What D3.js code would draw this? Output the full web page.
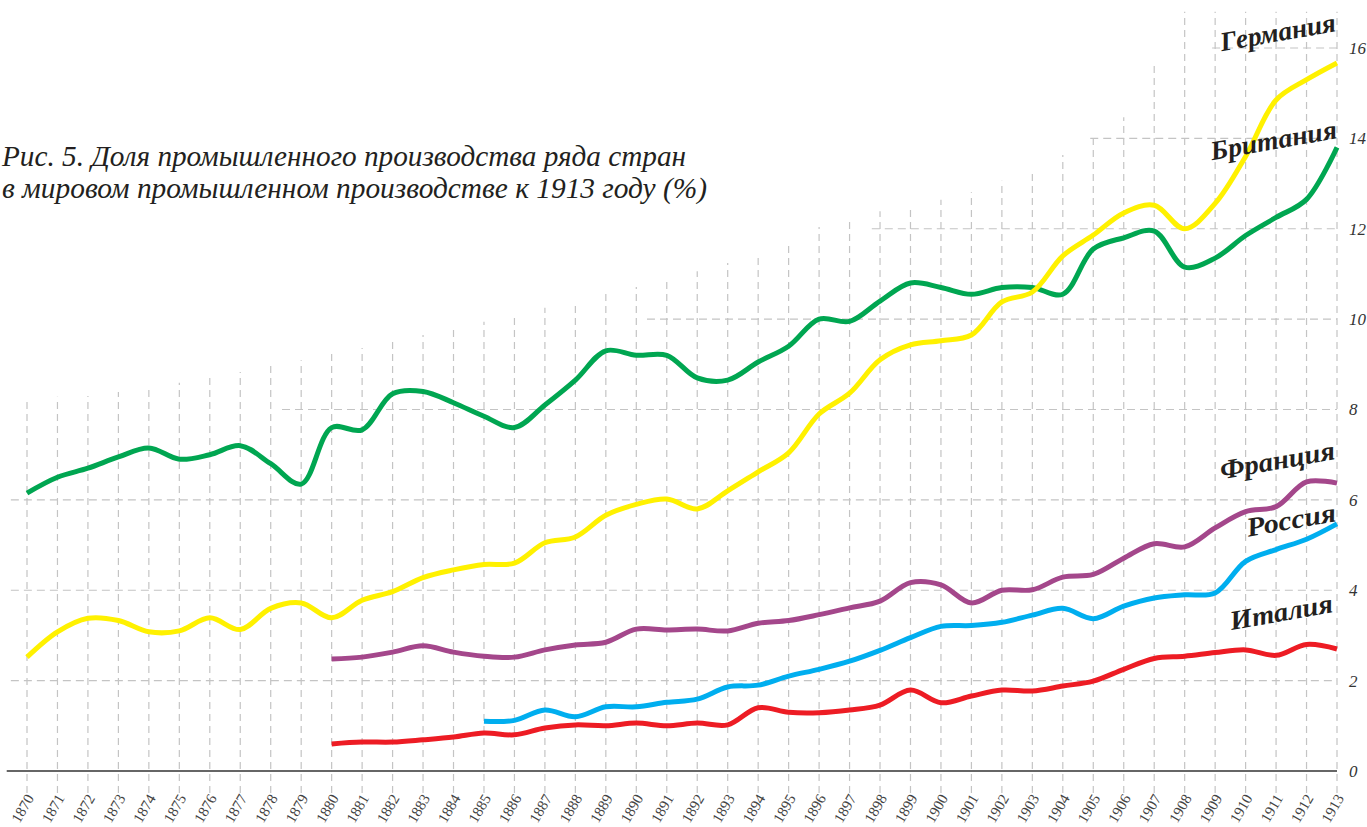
<!DOCTYPE html>
<html>
<head>
<meta charset="utf-8">
<script src="https://cdn.jsdelivr.net/npm/d3@7"></script>
<style>
    body { margin: 0; background: #fff; overflow: hidden; }
    svg { display: block; }
</style>
</head>
<body>
<div id="chart"></div>
<script>
// Годы
const years = [1870, 1871, 1872, 1873, 1874, 1875, 1876, 1877, 1878, 1879,
    1880, 1881, 1882, 1883, 1884, 1885, 1886, 1887, 1888, 1889,
    1890, 1891, 1892, 1893, 1894, 1895, 1896, 1897, 1898, 1899,
    1900, 1901, 1902, 1903, 1904, 1905, 1906, 1907, 1908, 1909,
    1910, 1911, 1912, 1913];

// Доли (%), Британия и Германия с 1870
const britain = [6.15, 6.5, 6.7, 6.95, 7.15, 6.9, 7.0, 7.2, 6.8, 6.35,
    7.6, 7.55, 8.35, 8.4, 8.15, 7.85, 7.6, 8.1, 8.65, 9.3,
    9.2, 9.2, 8.7, 8.65, 9.05, 9.4, 10.0, 9.95, 10.4, 10.8,
    10.7, 10.55, 10.7, 10.7, 10.55, 11.55, 11.8, 11.95, 11.15, 11.35,
    11.85, 12.25, 12.65, 13.8];
const germany = [2.52, 3.08, 3.38, 3.33, 3.08, 3.1, 3.39, 3.13, 3.6, 3.72,
    3.39, 3.78, 3.97, 4.28, 4.45, 4.57, 4.6, 5.05, 5.18, 5.66,
    5.9, 6.02, 5.8, 6.2, 6.62, 7.04, 7.9, 8.36, 9.1, 9.43,
    9.52, 9.65, 10.38, 10.6, 11.4, 11.86, 12.35, 12.52, 12.0, 12.56,
    13.6, 14.85, 15.3, 15.67];
// Франция и Италия с 1880
const france = [2.48, 2.52, 2.63, 2.77, 2.63, 2.54, 2.52, 2.68, 2.79, 2.85,
    3.14, 3.12, 3.14, 3.1, 3.27, 3.33, 3.46, 3.61, 3.76, 4.17,
    4.12, 3.72, 4.0, 4.01, 4.29, 4.35, 4.71, 5.03, 4.96, 5.38,
    5.74, 5.85, 6.4, 6.37];
const italy = [0.6, 0.64, 0.64, 0.69, 0.75, 0.84, 0.8, 0.95, 1.02, 1.0,
    1.06, 1.0, 1.06, 1.02, 1.4, 1.3, 1.29, 1.35, 1.46, 1.79,
    1.51, 1.66, 1.79, 1.77, 1.88, 1.99, 2.25, 2.49, 2.54, 2.62,
    2.68, 2.56, 2.8, 2.7];
// Россия с 1885
const russia = [1.1, 1.12, 1.35, 1.2, 1.42, 1.42, 1.52, 1.59, 1.86, 1.9,
    2.1, 2.25, 2.43, 2.67, 2.95, 3.2, 3.22, 3.29, 3.45, 3.6,
    3.37, 3.65, 3.83, 3.9, 3.94, 4.64, 4.9, 5.13, 5.47];

const countries = ["Британия", "Германия", "Франция", "Россия", "Италия"];
const startYears = [1870, 1870, 1880, 1885, 1880];
const seriesValues = [britain, germany, france, russia, italy];

const yTicks = [0, 2, 4, 6, 8, 10, 12, 14, 16];
// Верх вертикальных линий сетки (в % по шкале) и начало горизонтальных (год)
const gridTop = [8.23, 8.28, 8.3, 8.39, 8.48, 8.59, 8.72, 8.83, 8.96, 9.09,
    9.23, 9.36, 9.52, 9.65, 9.8, 9.94, 10.09, 10.25, 10.4, 10.56,
    10.71, 10.89, 11.06, 11.24, 11.46, 11.73, 12.04, 12.26, 12.39, 12.5,
    12.64, 12.81, 13.06, 13.32, 13.63, 14.01, 14.47, 15.69, 16.8, 16.8,
    16.8, 16.8, 16.8, 16.8];
const gridStart = [1869.4, 1869.47, 1869.47, 1869.47, 1878.37, 1890.35, 1897.73, 1904.9, 1908.9];

const titleLines = ["Рис. 5. Доля промышленного производства ряда стран",
    "в мировом промышленном производстве к 1913 году (%)"];

const colors = {
    "Британия": "#00a651",
    "Германия": "#fff100",
    "Франция": "#a4478b",
    "Россия": "#00aeef",
    "Италия": "#ed1c24"
};

const serif = "'Liberation Serif', 'Times New Roman', 'DejaVu Serif', serif";
const width = 1367, height = 827;

const svg = d3.select("#chart")
    .append("svg")
    .attr("width", width)
    .attr("height", height);

// Шкалы
const x = d3.scaleLinear()
    .domain([1870, 1913])
    .range([27, 1337]);

const y = d3.scaleLinear()
    .domain([0, 16])
    .range([771, 48]);

// Сетка: вертикальные
svg.append("g")
    .selectAll("line")
    .data(years)
    .enter()
    .append("line")
    .attr("x1", d => x(d))
    .attr("x2", d => x(d))
    .attr("y1", y(0) + 22)
    .attr("y2", (d, i) => y(gridTop[i]))
    .attr("stroke", "#c4c4c4")
    .attr("stroke-width", 1.2)
    .attr("stroke-dasharray", "7,5");

// Сетка: горизонтальные
svg.append("g")
    .selectAll("line")
    .data(yTicks.slice(1))
    .enter()
    .append("line")
    .attr("x1", (d, i) => x(gridStart[i + 1]))
    .attr("x2", x(1913))
    .attr("y1", d => y(d))
    .attr("y2", d => y(d))
    .attr("stroke", "#c4c4c4")
    .attr("stroke-width", 1.2)
    .attr("stroke-dasharray", "8,5");

// Ось X
svg.append("line")
    .attr("x1", x(gridStart[0]) - 2)
    .attr("x2", x(1913))
    .attr("y1", y(0))
    .attr("y2", y(0))
    .attr("stroke", "#333")
    .attr("stroke-width", 1.6);

const xAxis = svg.append("g")
    .attr("transform", `translate(0,${y(0)})`)
    .call(d3.axisBottom(x).tickValues(years).tickFormat(d3.format("d")).tickSize(0));
xAxis.select(".domain").remove();
xAxis.selectAll("text")
    .attr("x", 0)
    .attr("y", 0)
    .attr("dy", null)
    .attr("transform", "translate(7,27) rotate(-60)")
    .attr("text-anchor", "end")
    .attr("fill", "#444")
    .style("font-family", serif)
    .style("font-size", "15px");

// Ось Y справа
const yAxis = svg.append("g")
    .attr("transform", `translate(${x(1913)},0)`)
    .call(d3.axisRight(y).tickValues(yTicks).tickSize(0).tickPadding(12));
yAxis.select(".domain").remove();
yAxis.selectAll("text")
    .attr("fill", "#333")
    .style("font-family", serif)
    .style("font-style", "italic")
    .style("font-size", "17px");

// Линии
const line = d3.line()
    .x(d => x(d.year))
    .y(d => y(d.value))
    .curve(d3.curveCatmullRom.alpha(0.5));

countries.forEach((name, k) => {
    const data = seriesValues[k].map((v, i) => ({ year: startYears[k] + i, value: v }));
    svg.append("path")
        .datum(data)
        .attr("fill", "none")
        .attr("stroke", colors[name])
        .attr("stroke-width", 5)
        .attr("d", line);
});

// Подписи стран
const labelPos = {
    "Германия": { x: 1337, y: 31, w: 117 },
    "Британия": { x: 1338, y: 138, w: 128 },
    "Франция": { x: 1336, y: 459, w: 116 },
    "Россия": { x: 1337, y: 521, w: 90 },
    "Италия": { x: 1334, y: 612, w: 104 }
};

countries.forEach(name => {
    const p = labelPos[name];
    svg.append("text")
        .attr("transform", `translate(${p.x},${p.y}) rotate(-10)`)
        .attr("text-anchor", "end")
        .attr("fill", "#231f20")
        .attr("textLength", p.w)
        .attr("lengthAdjust", "spacingAndGlyphs")
        .style("font-family", serif)
        .style("font-style", "italic")
        .style("font-weight", "bold")
        .style("font-size", "27px")
        .text(name);
});

// Заголовок
const titleX = [2, 2];
const titleY = [166, 198];
const titleW = [684, 705];
titleLines.forEach((t, i) => {
    svg.append("text")
        .attr("x", titleX[i])
        .attr("y", titleY[i])
        .attr("textLength", titleW[i])
        .attr("lengthAdjust", "spacingAndGlyphs")
        .attr("fill", "#231f20")
        .style("font-family", serif)
        .style("font-style", "italic")
        .style("font-size", "30px")
        .text(t);
});
</script>
</body>
</html>
